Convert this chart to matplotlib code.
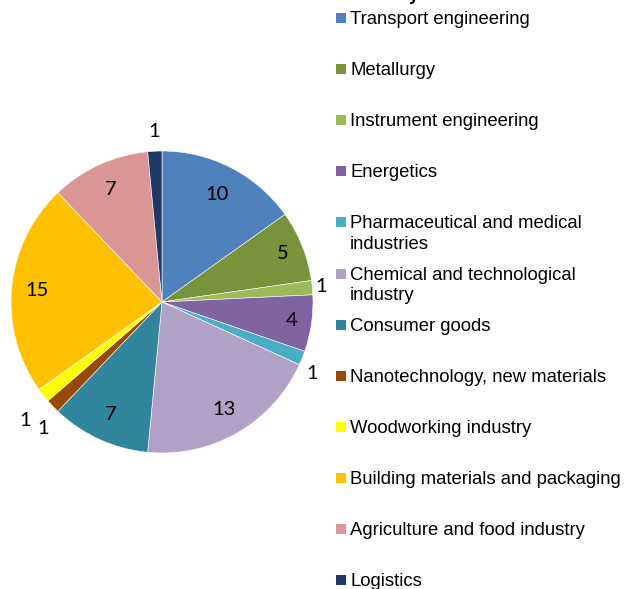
import matplotlib
matplotlib.use("Agg")
import matplotlib.pyplot as plt
import numpy as np
from matplotlib.patches import Rectangle

categories = ["Transport engineering", "Metallurgy", "Instrument engineering", "Energetics",
              "Pharmaceutical and medical\nindustries", "Chemical and technological\nindustry",
              "Consumer goods", "Nanotechnology, new materials", "Woodworking industry",
              "Building materials and packaging", "Agriculture and food industry", "Logistics"]
values = [10, 5, 1, 4, 1, 13, 7, 1, 1, 15, 7, 1]
colors = ["#4F81BD", "#77933C", "#9BBB59", "#8064A2", "#4BACC6", "#B2A1C7",
          "#31859C", "#984807", "#FFFF00", "#FFC000", "#D99694", "#1F3864"]
title = "Industry"

# label placement (radius as fraction of pie radius, optional angle override in degrees)
label_r = [0.80, 0.86, 1.06, 0.87, 1.10, 0.82, 0.82, 1.15, 1.20, 0.83, 0.82, 1.13]
label_ang = [None, None, None, None, -25.5, None, None, -133, -139, None, None, None]

W, H = 636, 589
fig = plt.figure(figsize=(W / 100, H / 100), dpi=100)

cx, cy, R = 162, 302, 151
ax = fig.add_axes([(cx - R) / W, (H - cy - R) / H, 2 * R / W, 2 * R / H])
wedges, _ = ax.pie(values, colors=colors, startangle=90, counterclock=False,
                   radius=1.0, wedgeprops=dict(edgecolor="white", linewidth=0.4))
ax.set_xlim(-1, 1)
ax.set_ylim(-1, 1)
ax.set_aspect("equal")
ax.axis("off")

for w, v, r, a in zip(wedges, values, label_r, label_ang):
    ang = (w.theta1 + w.theta2) / 2 if a is None else a
    t = np.deg2rad(ang)
    ax.text(r * np.cos(t), r * np.sin(t), str(v), ha="center", va="center",
            fontsize=14.5, family="Lato", color="black", clip_on=False)

# legend (manual)
y0, step = 18, 51.1
for i, (lab, col) in enumerate(zip(categories, colors)):
    yc = y0 + i * step
    fig.patches.append(Rectangle((336 / W, 1 - (yc + 5) / H), 10 / W, 10 / H,
                                 transform=fig.transFigure, facecolor=col, edgecolor="none"))
    fig.text(350 / W, 1 - (yc - 7) / H, lab, ha="left", va="top", fontsize=13.3,
             family="Liberation Sans", color="black", linespacing=1.3)

fig.text(420 / W, 1.0, title, ha="right", va="baseline", fontsize=13,
         family="Liberation Sans", fontweight="bold")

fig.savefig("out.png", dpi=100)
